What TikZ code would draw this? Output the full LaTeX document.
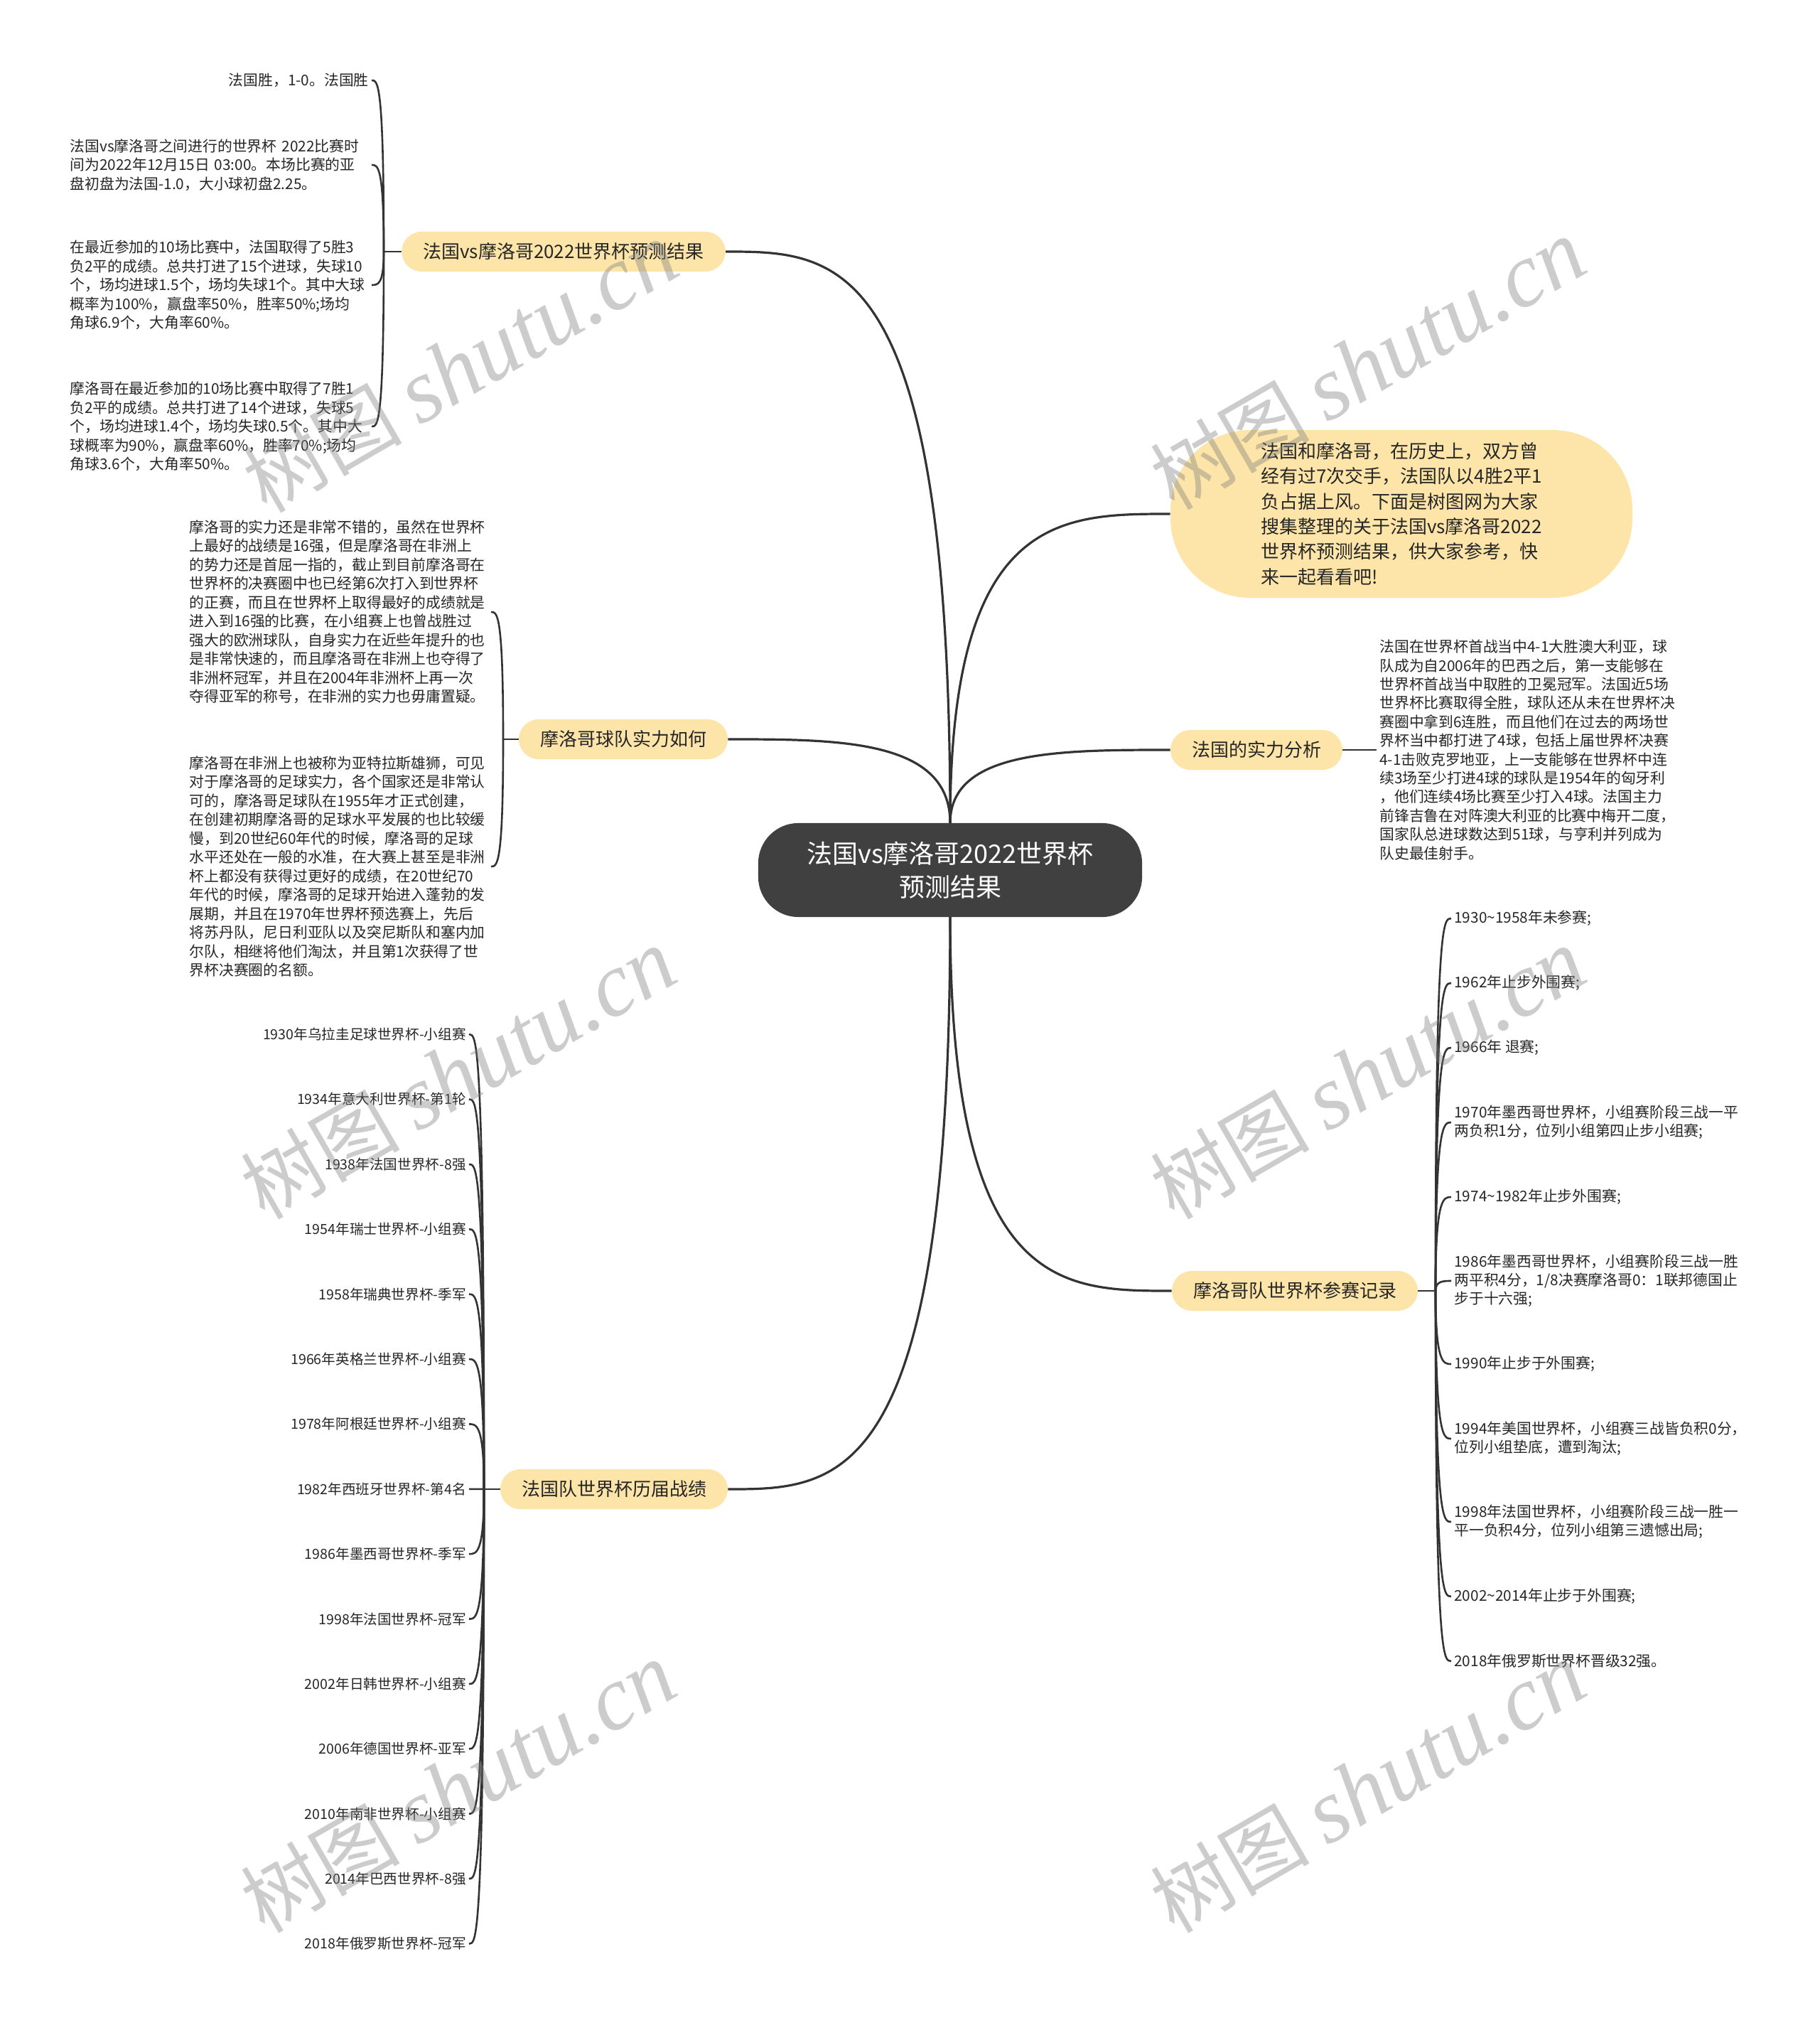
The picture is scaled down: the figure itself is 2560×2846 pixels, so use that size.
\documentclass[tikz,border=0pt]{standalone}
\usepackage{fontspec}
\setmainfont{Noto Sans CJK SC}
\newfontfamily\wmserif{Liberation Serif}
\usetikzlibrary{calc}
\definecolor{boxyellow}{HTML}{FDE5A9}
\definecolor{darkbox}{HTML}{404040}
\definecolor{linec}{HTML}{333333}
\definecolor{txt}{HTML}{262626}
\newcommand\curvelink[3][conn]{%
  \draw[#1] (#2) .. controls (#2 |- #3) and ($(#2 |- #3)!0.5!(#3)$) .. (#3);}
\begin{document}
\begin{tikzpicture}[x=0.5pt,y=-0.5pt,
  conn/.style={draw=linec,line width=1.6pt},
  leafconn/.style={draw=linec,line width=1.3pt},
  centerbox/.style={fill=darkbox,draw=black!75,line width=0.6pt,rounded corners=28pt,
    minimum width=269.5pt,minimum height=65.5pt,text=white,align=center,
    font=\fontsize{18}{23.6}\selectfont},
  branch/.style={fill=boxyellow,rounded corners=14pt,minimum height=28pt,
    inner xsep=15pt,inner ysep=0pt,font=\fontsize{13}{16}\selectfont,text=txt},
  intro/.style={fill=boxyellow,rounded corners=56pt,minimum width=325pt,
    minimum height=118pt,align=left,font=\fontsize{13}{17.7}\selectfont,text=txt},
  para/.style={align=left,inner sep=2pt,text width=210pt,
    font=\fontsize{10.4}{13.25}\selectfont,text=txt},
  leaf/.style={align=left,inner sep=2pt,font=\fontsize{10.4}{13}\selectfont,text=txt},
  leafsm/.style={align=left,inner sep=2pt,font=\fontsize{9.8}{12}\selectfont,text=txt},
  wm/.style={text=black!50,text opacity=0.4,inner sep=0pt}
]
\useasboundingbox (0,0) rectangle (2560,2846);
\fill[white] (0,0) rectangle (2560,2846);

% ---------- centre and branches ----------
\node[centerbox] (c) at (1337,1224) {法国vs摩洛哥2022世界杯\\预测结果};
\node[branch] (b1) at (793,354) {法国vs摩洛哥2022世界杯预测结果};
\node[intro] (intro) at (1972,723) {法国和摩洛哥，在历史上，双方曾\\经有过7次交手，法国队以4胜2平1\\负占据上风。下面是树图网为大家\\搜集整理的关于法国vs摩洛哥2022\\世界杯预测结果，供大家参考，快\\来一起看看吧!};
\node[branch] (b6) at (877,1040) {摩洛哥球队实力如何};
\node[branch] (b3) at (1768,1055) {法国的实力分析};
\node[branch] (b4) at (1822,1816) {摩洛哥队世界杯参赛记录};
\node[branch] (b5) at (864,2095) {法国队世界杯历届战绩};

\curvelink{c.north}{b1.east}
\curvelink{c.north}{b6.east}
\curvelink{c.north}{intro.west}
\curvelink{c.north}{b3.west}
\curvelink{c.south}{b4.west}
\curvelink{c.south}{b5.east}

% ---------- branch 1 leaves ----------
\coordinate (s1) at (540,354);
\draw[leafconn] (b1.west) -- (s1);
\node[leaf,anchor=east] (l11) at (523,113) {法国胜，1-0。法国胜};
\node[para,anchor=east] (l12) at (523,232) {法国vs摩洛哥之间进行的世界杯~2022比赛时\\间为2022年12月15日~03:00。本场比赛的亚\\盘初盘为法国-1.0，大小球初盘2.25。};
\node[para,anchor=east] (l13) at (523,401) {在最近参加的10场比赛中，法国取得了5胜3\\负2平的成绩。总共打进了15个进球，失球10\\个，场均进球1.5个，场均失球1个。其中大球\\概率为100\%，赢盘率50\%，胜率50\%;场均\\角球6.9个，大角率60\%。};
\node[para,anchor=east] (l14) at (523,600) {摩洛哥在最近参加的10场比赛中取得了7胜1\\负2平的成绩。总共打进了14个进球，失球5\\个，场均进球1.4个，场均失球0.5个。其中大\\球概率为90\%，赢盘率60\%，胜率70\%;场均\\角球3.6个，大角率50\%。};
\foreach \n in {l11,l12,l13,l14} {\curvelink[leafconn]{s1}{\n.east}}

% ---------- branch 6 leaves ----------
\coordinate (s6) at (708,1040);
\draw[leafconn] (b6.west) -- (s6);
\node[para,anchor=east] (l61) at (691,861) {摩洛哥的实力还是非常不错的，虽然在世界杯\\上最好的战绩是16强，但是摩洛哥在非洲上\\的势力还是首屈一指的，截止到目前摩洛哥在\\世界杯的决赛圈中也已经第6次打入到世界杯\\的正赛，而且在世界杯上取得最好的成绩就是\\进入到16强的比赛，在小组赛上也曾战胜过\\强大的欧洲球队，自身实力在近些年提升的也\\是非常快速的，而且摩洛哥在非洲上也夺得了\\非洲杯冠军，并且在2004年非洲杯上再一次\\夺得亚军的称号，在非洲的实力也毋庸置疑。};
\node[para,anchor=east] (l62) at (691,1219) {摩洛哥在非洲上也被称为亚特拉斯雄狮，可见\\对于摩洛哥的足球实力，各个国家还是非常认\\可的，摩洛哥足球队在1955年才正式创建，\\在创建初期摩洛哥的足球水平发展的也比较缓\\慢，到20世纪60年代的时候，摩洛哥的足球\\水平还处在一般的水准，在大赛上甚至是非洲\\杯上都没有获得过更好的成绩，在20世纪70\\年代的时候，摩洛哥的足球开始进入蓬勃的发\\展期，并且在1970年世界杯预选赛上，先后\\将苏丹队，尼日利亚队以及突尼斯队和塞内加\\尔队，相继将他们淘汰，并且第1次获得了世\\界杯决赛圈的名额。};
\foreach \n in {l61,l62} {\curvelink[leafconn]{s6}{\n.east}}

% ---------- branch 3 leaf ----------
\node[leaf,font=\fontsize{10.4}{13.2}\selectfont,anchor=west] (l31) at (1937,1055) {法国在世界杯首战当中4-1大胜澳大利亚，球\\队成为自2006年的巴西之后，第一支能够在\\世界杯首战当中取胜的卫冕冠军。法国近5场\\世界杯比赛取得全胜，球队还从未在世界杯决\\赛圈中拿到6连胜，而且他们在过去的两场世\\界杯当中都打进了4球，包括上届世界杯决赛\\4-1击败克罗地亚，上一支能够在世界杯中连\\续3场至少打进4球的球队是1954年的匈牙利\\，他们连续4场比赛至少打入4球。法国主力\\前锋吉鲁在对阵澳大利亚的比赛中梅开二度，\\国家队总进球数达到51球，与亨利并列成为\\队史最佳射手。};
\draw[leafconn] (b3.east) -- (l31.west);

% ---------- branch 4 leaves ----------
\coordinate (s4) at (2020,1816);
\draw[leafconn] (b4.east) -- (s4);
\node[leaf,anchor=west] (l41) at (2042,1292) {1930\textasciitilde1958年未参赛;};
\node[leaf,anchor=west] (l42) at (2042,1383) {1962年止步外围赛;};
\node[leaf,anchor=west] (l43) at (2042,1474) {1966年~退赛;};
\node[leaf,anchor=west] (l44) at (2042,1579) {1970年墨西哥世界杯，小组赛阶段三战一平\\两负积1分，位列小组第四止步小组赛;};
\node[leaf,anchor=west] (l45) at (2042,1684) {1974\textasciitilde1982年止步外围赛;};
\node[leaf,anchor=west] (l46) at (2042,1802) {1986年墨西哥世界杯，小组赛阶段三战一胜\\两平积4分，1/8决赛摩洛哥0：1联邦德国止\\步于十六强;};
\node[leaf,anchor=west] (l47) at (2042,1919) {1990年止步于外围赛;};
\node[leaf,anchor=west] (l48) at (2042,2024) {1994年美国世界杯，小组赛三战皆负积0分，\\位列小组垫底，遭到淘汰;};
\node[leaf,anchor=west] (l49) at (2042,2141) {1998年法国世界杯，小组赛阶段三战一胜一\\平一负积4分，位列小组第三遗憾出局;};
\node[leaf,anchor=west] (l410) at (2042,2246) {2002\textasciitilde2014年止步于外围赛;};
\node[leaf,anchor=west] (l411) at (2042,2337) {2018年俄罗斯世界杯晋级32强。};
\foreach \n in {l41,l42,l43,l44,l45,l46,l47,l48,l49,l410,l411} {\curvelink[leafconn]{s4}{\n.west}}

% ---------- branch 5 leaves ----------
\coordinate (s5) at (681,2095);
\draw[leafconn] (b5.west) -- (s5);
\foreach \t [count=\i from 0] in {1930年乌拉圭足球世界杯-小组赛,1934年意大利世界杯-第1轮,1938年法国世界杯-8强,1954年瑞士世界杯-小组赛,1958年瑞典世界杯-季军,1966年英格兰世界杯-小组赛,1978年阿根廷世界杯-小组赛,1982年西班牙世界杯-第4名,1986年墨西哥世界杯-季军,1998年法国世界杯-冠军,2002年日韩世界杯-小组赛,2006年德国世界杯-亚军,2010年南非世界杯-小组赛,2014年巴西世界杯-8强,2018年俄罗斯世界杯-冠军} {
  \node[leafsm,anchor=east] (l5\i) at (660,{1455+91.4*\i}) {\t};
  \curvelink[leafconn]{s5}{l5\i.east}
}

% ---------- watermarks ----------
\foreach \p [count=\k] in {(648,517),(1925,513),(645,1511),(1925,1511),(645,2515),(1925,2515)} {
  \node[wm,rotate=30] (wm\k) at \p {{\fontsize{56}{60}\selectfont 树图}\hspace{12pt}{\wmserif\itshape\fontsize{64}{70}\selectfont shutu.cn}};
}
\end{tikzpicture}
\end{document}
